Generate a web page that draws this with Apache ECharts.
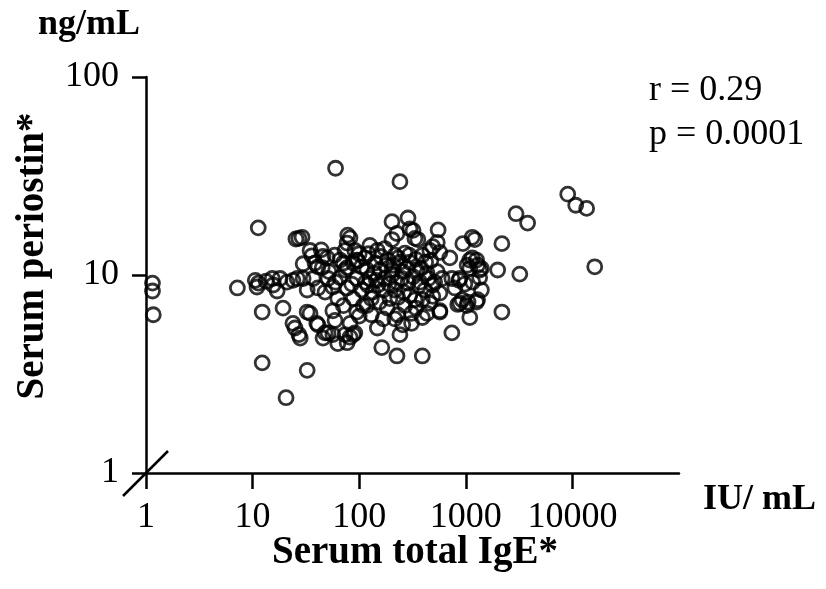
<!DOCTYPE html>
<html>
<head>
<meta charset="utf-8">
<script src="https://cdn.jsdelivr.net/npm/echarts@6/dist/echarts.min.js"></script>
<style>
  html, body { margin: 0; padding: 0; background: #fff; }
  #main { width: 826px; height: 589px; }
</style>
</head>
<body>
<div id="main"></div>
<script>
// [serum total IgE (IU/mL), serum periostin (ng/mL)]
var patients = [
  [1.15, 9.1], [1.15, 8.3], [1.17, 6.3],
  [7.2, 8.6], [11.3, 17.3], [12.3, 6.5], [12.3, 3.6], [10.6, 9.4], [11.0, 8.7], [11.3, 9.1],
  [13.4, 9.3], [15.3, 9.6], [15.6, 8.9], [18.1, 9.6], [17.0, 8.3], [19.3, 6.8], [21.0, 9.2],
  [23.9, 9.4], [26.2, 9.6], [20.6, 2.4], [23.9, 5.7], [25.0, 5.4], [27.2, 5.0], [28, 4.8],
  [25.5, 15.2], [27.2, 15.3], [29.1, 15.5],
  [32.5, 3.3], [34.6, 13.3], [44, 13.4], [36, 12.5], [45.8, 12.4], [50, 12.2], [29.8, 11.4],
  [41, 11.0], [45, 10.9], [38.5, 11.5], [51, 9.6], [29.8, 9.6], [37, 9.6], [66, 9.7], [66, 11.9],
  [71, 11.5], [77, 10.9], [88, 11.5], [95, 11.9], [60, 34.6], [78, 15.9], [82, 15.4], [77, 14.5],
  [32.5, 8.4], [41, 8.6], [47.8, 8.2], [56.6, 8.7], [63, 7.6], [77, 8.6], [88, 7.6], [32.5, 6.5],
  [40, 5.7], [47.8, 5.1], [56.6, 6.6], [59.3, 5.9], [71, 7.0], [82, 5.7], [73.6, 5.0], [56.6, 5.0],
  [45.8, 4.8], [88, 5.0], [63, 4.5], [77, 4.55], [82, 4.85], [41, 5.6], [34.6, 6.4], [51, 5.1],
  [91, 5.1], [95, 9.6], [97, 11.8], [73.6, 10.6], [95, 6.5], [91, 13.3], [73.6, 13.3], [59, 12.6],
  [60, 9.2], [52, 10.4], [85, 9.0], [100, 6.2], [100, 12.8],
  [106, 8.4], [118, 10.6], [118, 7.0], [134, 8.2], [148, 13.3], [174, 13.6], [186, 11.9], [157, 10.6],
  [168, 8.4], [194, 7.6], [126, 9.6], [174, 9.6], [109, 7.0], [130, 6.3], [168, 6.0], [183, 6.8],
  [148, 5.4], [163, 4.3], [226, 3.9], [391, 3.9], [203, 18.6], [287, 19.4], [320, 16.8], [226, 16.2],
  [333, 15.3], [203, 15.1], [241, 29.6], [299, 17.1], [355, 15.1], [216, 12.6], [268, 12.9], [391, 12.6],
  [460, 13.3], [203, 10.6], [256, 10.4], [346, 10.6], [433, 10.2], [540, 10.4], [226, 9.2], [287, 9.1],
  [371, 9.2], [490, 8.9], [230, 7.7], [299, 7.9], [391, 7.5], [490, 7.8], [571, 8.1], [230, 6.3],
  [310, 6.4], [433, 6.4], [571, 6.5], [256, 5.6], [241, 5.0], [310, 5.7], [391, 6.1], [216, 6.0],
  [540, 14.6], [550, 16.9], [490, 13.9], [571, 13.0], [113, 12.2], [141, 11.5], [203, 10.0], [241, 11.6],
  [299, 11.6], [150, 8.9], [216, 8.4], [413, 8.4], [333, 7.5], [268, 7.0], [120, 8.9], [126, 14.1],
  [105, 11.0], [115, 9.2], [122, 12.8], [138, 10.2], [145, 9.4], [160, 12.4], [178, 11.2], [190, 9.0],
  [210, 11.2], [232, 12.2], [250, 9.6], [262, 8.2], [280, 10.8], [295, 12.6], [320, 9.8], [340, 12.0],
  [360, 8.8], [380, 10.8], [420, 11.6], [445, 9.6], [470, 11.8], [510, 9.2], [130, 7.6], [155, 7.3],
  [340, 6.8],
  [708, 12.2], [938, 14.4], [1150, 15.5], [2180, 14.4], [2960, 20.4], [3800, 18.3], [1150, 12.2], [1260, 11.9],
  [1290, 11.2], [1400, 10.8], [1030, 11.2], [1090, 10.8], [1350, 10.6], [1990, 10.6], [3210, 10.1], [1400, 8.4],
  [1260, 7.3], [1090, 6.1], [880, 7.2], [1020, 7.0], [840, 7.1], [925, 7.5], [2180, 6.5], [740, 5.1],
  [571, 6.6], [460, 7.2], [860, 9.4], [979, 9.0], [789, 8.6], [740, 9.6], [600, 9.6], [879, 9.6],
  [1160, 9.2], [1350, 9.7], [1050, 7.3], [1290, 7.5], [1090, 11.9], [1215, 15.1],
  [9040, 25.6], [10740, 22.5], [13600, 21.7], [16200, 11.0]
];
var xTicks = [1, 10, 100, 1000, 10000];
var yTicks = [1, 10, 100];
var statLines = ['r = 0.29', 'p = 0.0001'];

var serif = "'Liberation Serif', 'Times New Roman', serif";
var chart = echarts.init(document.getElementById('main'), null, { renderer: 'canvas' });

function plain(v) { return String(Math.round(v)); }

var option = {
  backgroundColor: '#fff',
  animation: false,
  grid: { left: 146, right: 147, top: 77, bottom: 116 },
  xAxis: {
    type: 'log',
    logBase: 10,
    min: 1,
    max: 100000,
    axisLine: { lineStyle: { color: '#000', width: 2.5 } },
    axisTick: { length: 16, customValues: xTicks, lineStyle: { color: '#000', width: 2.5 } },
    axisLabel: { customValues: xTicks, formatter: plain, fontFamily: serif, fontSize: 36, color: '#000', margin: 27 },
    splitLine: { show: false }
  },
  yAxis: {
    type: 'log',
    logBase: 10,
    min: 1,
    max: 100,
    axisLine: { lineStyle: { color: '#000', width: 2.5 } },
    axisTick: { length: 14, customValues: yTicks, lineStyle: { color: '#000', width: 2.5 } },
    axisLabel: { customValues: yTicks, formatter: plain, fontFamily: serif, fontSize: 36, color: '#000', margin: 27 },
    splitLine: { show: false }
  },
  series: [{
    type: 'scatter',
    data: patients,
    symbol: 'circle',
    symbolSize: 14,
    itemStyle: { color: 'rgba(0,0,0,0)', borderColor: '#000', borderWidth: 2.8 }
  }]
};
chart.setOption(option);

// axis break mark through the origin, axis titles and the loose labels
var o = chart.convertToPixel({ gridIndex: 0 }, [1, 1]);
chart.setOption({
  graphic: [
    { type: 'line', shape: { x1: o[0] - 23, y1: o[1] + 23, x2: o[0] + 22, y2: o[1] - 22 },
      style: { stroke: '#000', lineWidth: 2.5 } },
    { type: 'text', left: 38, top: 7,
      style: { text: 'ng/mL', font: 'bold 36px ' + serif, fill: '#000' } },
    { type: 'text', left: 703, top: 482,
      style: { text: 'IU/ mL', font: 'bold 36px ' + serif, fill: '#000' } },
    { type: 'text', x: 415, y: 553,
      style: { text: 'Serum total IgE*', font: 'bold 39px ' + serif, fill: '#000',
               textAlign: 'center', textVerticalAlign: 'middle' } },
    { type: 'text', x: 33, y: 256, rotation: Math.PI / 2,
      style: { text: 'Serum periostin*', font: 'bold 39px ' + serif, fill: '#000',
               textAlign: 'center', textVerticalAlign: 'middle' } },
    { type: 'text', left: 649, top: 73,
      style: { text: statLines[0], font: '36px ' + serif, fill: '#000' } },
    { type: 'text', left: 649, top: 117,
      style: { text: statLines[1], font: '36px ' + serif, fill: '#000' } }
  ]
});
</script>
</body>
</html>
